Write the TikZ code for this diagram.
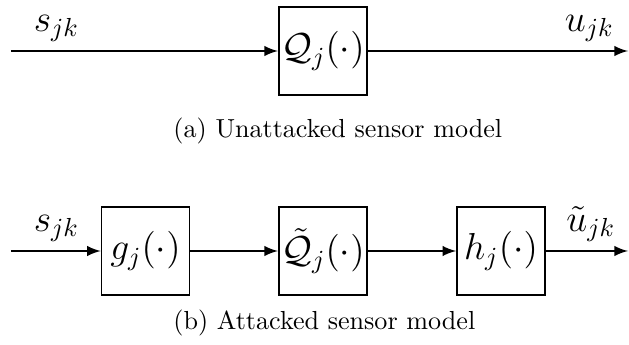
\documentclass[tikz,border=0pt]{standalone}
\usepackage{amsmath,amssymb}
\usepackage{tikz}
\usetikzlibrary{arrows,positioning}
\tikzstyle{block} = [rectangle, draw, semithick, minimum width=1.185cm, minimum height=1.185cm, inner sep=1pt, text centered, font=\Large]
\tikzstyle{arrow} = [thick,->,>=latex]

\begin{document}
\begin{tikzpicture}
		\useasboundingbox (0,0) rectangle (8.473,4.634);
		\coordinate (topin) at (0.148,3.947);
		\coordinate (quant) at (4.351,3.947);
		\coordinate (topout) at (8.46,3.947);
		\coordinate (botin) at (0.148,1.253);
		\coordinate (attg) at (1.960,1.253);
		\coordinate (attq) at (4.351,1.253);
		\coordinate (atth) at (6.748,1.253);
		\coordinate (botout) at (8.46,1.253);
		% Unattacked sensor
		\node[block, name=quant] at (quant) {$\mathcal{Q}_j(\cdot)$};
		\draw [arrow] (topin)--(quant);
		\draw [arrow] (quant)--(topout);
		% Attacked sensor
		\node[block, name=attg] at (attg) {$g_j(\cdot)$};
		\node[block, name=attq] at (attq) {$\tilde{\mathcal{Q}}_j(\cdot)$};
		\node[block, name=atth] at (atth) {$h_j(\cdot)$};
		\draw [arrow] (botin)--(attg);
		\draw [arrow] (attg)--(attq);
		\draw [arrow] (attq)--(atth);
		\draw [arrow] (atth)--(botout);
		% Signals
		\begin{scope}[every node/.style={above, font=\Large}]
		\node[name=sjka] at (0.76,3.947) {$s_{jk}$};
		\node[name=ujk] at (7.94,3.947) {$u_{jk}$};
		\node[name=sjkb] at (0.76,1.253) {$s_{jk}$};
		\node[name=utjk] at (7.96,1.253) {$\tilde{u}_{jk}$};
		\end{scope}
		% Captions
		\node[name=capa, anchor=west, inner sep=0pt] at (2.33,2.869) {(a) Unattacked sensor model};
		\node[name=capb, anchor=west, inner sep=0pt] at (2.33,0.283) {(b) Attacked sensor model};
\end{tikzpicture}
\end{document}
